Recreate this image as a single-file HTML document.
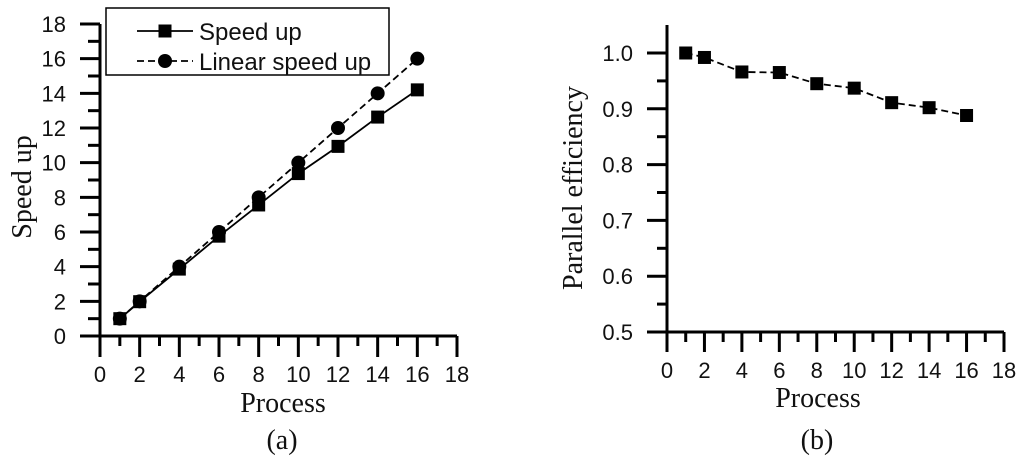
<!DOCTYPE html>
<html><head><meta charset="utf-8"><style>
html,body{margin:0;padding:0;background:#fff;width:1024px;height:466px;overflow:hidden}
svg{display:block}
.tk{font-family:"Liberation Sans",sans-serif;font-size:22px;fill:#111}
.lg{font-family:"Liberation Sans",sans-serif;font-size:24px;fill:#111}
.tt{font-family:"Liberation Serif",serif;font-size:28px;fill:#111}
</style></head><body>
<svg id="c" width="1024" height="466"></svg>
<script>
const xTicks=[0,2,4,6,8,10,12,14,16,18];
const procs=[1,2,4,6,8,10,12,14,16];
const speedup=[1,1.98,3.86,5.76,7.56,9.37,10.94,12.63,14.2];
const linearSpeedup=[1,2,4,6,8,10,12,14,16];
const yTicksA=[0,2,4,6,8,10,12,14,16,18];
const efficiency=[1.0,0.992,0.966,0.965,0.945,0.937,0.911,0.902,0.888];
const yTicksB=[0.5,0.6,0.7,0.8,0.9,1.0];
const NS='http://www.w3.org/2000/svg';
const svg=document.getElementById('c');
function el(t,a,p){const e=document.createElementNS(NS,t);for(const k in a)e.setAttribute(k,a[k]);(p||svg).appendChild(e);return e;}
function txt(s,a,p){const e=el('text',a,p);e.textContent=s;return e;}

// Panel A
const ga=el('g',{});


const xa=v=>100+v*(357/18), ya=v=>336-v*(312/18);
el('line',{x1:100,y1:24,x2:100,y2:337,stroke:'#000','stroke-width':3},ga);
el('line',{x1:99,y1:336,x2:457,y2:336,stroke:'#000','stroke-width':3},ga);
for(let v=0;v<=18;v++){
  const maj=v%2===0;
  el('line',{x1:maj?80:88,y1:ya(v),x2:100,y2:ya(v),stroke:'#000','stroke-width':3},ga);
  el('line',{x1:xa(v),y1:336,x2:xa(v),y2:maj?357:346,stroke:'#000','stroke-width':3},ga);
}
yTicksA.forEach(v=>{const t=txt(String(v),{x:66,y:ya(v)+8,'text-anchor':'end',class:'tk'},ga);});
xTicks.forEach(v=>{const t=txt(String(v),{x:xa(v),y:382,'text-anchor':'middle',class:'tk'},ga);});
el('polyline',{points:procs.map((p,i)=>xa(p)+','+ya(linearSpeedup[i])).join(' '),fill:'none',stroke:'#000','stroke-width':1.8,'stroke-dasharray':'7,4'},ga);
el('polyline',{points:procs.map((p,i)=>xa(p)+','+ya(speedup[i])).join(' '),fill:'none',stroke:'#000','stroke-width':1.8},ga);
procs.forEach((p,i)=>{
  const r=el('rect',{x:xa(p)-6.5,y:ya(speedup[i])-6.5,width:13,height:13,fill:'#000'},ga);
  
  
  const c=el('circle',{cx:xa(p),cy:ya(linearSpeedup[i]),r:7,fill:'#000'},ga);
  
  
});
const lg=el('g',{},ga);


el('rect',{x:106,y:8,width:283,height:67,fill:'#fff',stroke:'#000','stroke-width':1.5},lg);
el('line',{x1:137,y1:31,x2:193,y2:31,stroke:'#000','stroke-width':1.8},lg);
el('rect',{x:158.5,y:24.5,width:13,height:13,fill:'#000'},lg);
txt('Speed up',{x:199,y:40,class:'lg'},lg);
el('line',{x1:137,y1:61,x2:193,y2:61,stroke:'#000','stroke-width':1.8,'stroke-dasharray':'7,4'},lg);
el('circle',{cx:165,cy:61,r:7,fill:'#000'},lg);
txt('Linear speed up',{x:199,y:70,class:'lg'},lg);
txt('Speed up',{x:0,y:0,'text-anchor':'middle',class:'tt',transform:'translate(31,187) rotate(-90)'},ga);
txt('Process',{x:283,y:412,'text-anchor':'middle',class:'tt'},ga);
txt('(a)',{x:282,y:449,'text-anchor':'middle',class:'tt'},ga);

// Panel B
const gb=el('g',{});


const xb=v=>667+v*(337/18), yb=v=>332-(v-0.5)*558;
el('line',{x1:667,y1:25,x2:667,y2:333,stroke:'#000','stroke-width':3},gb);
el('line',{x1:666,y1:332,x2:1004,y2:332,stroke:'#000','stroke-width':3},gb);
for(let k=0;k<=10;k++){const v=0.5+k*0.05;const maj=k%2===0;
  el('line',{x1:maj?647:657,y1:yb(v),x2:667,y2:yb(v),stroke:'#000','stroke-width':3},gb);}
for(let v=0;v<=18;v++){const maj=v%2===0;
  el('line',{x1:xb(v),y1:332,x2:xb(v),y2:maj?352:342,stroke:'#000','stroke-width':3},gb);}
yTicksB.forEach(v=>{const t=txt(v.toFixed(1),{x:633,y:yb(v)+8,'text-anchor':'end',class:'tk'},gb);});
xTicks.forEach(v=>{const t=txt(String(v),{x:xb(v),y:378,'text-anchor':'middle',class:'tk'},gb);});
el('polyline',{points:procs.map((p,i)=>xb(p)+','+yb(efficiency[i])).join(' '),fill:'none',stroke:'#000','stroke-width':1.8,'stroke-dasharray':'7,4'},gb);
procs.forEach((p,i)=>{
  const r=el('rect',{x:xb(p)-6.5,y:yb(efficiency[i])-6.5,width:13,height:13,fill:'#000'},gb);
  
  
});
txt('Parallel efficiency',{x:0,y:0,'text-anchor':'middle',class:'tt',transform:'translate(582,188) rotate(-90)'},gb);
txt('Process',{x:818,y:407,'text-anchor':'middle',class:'tt'},gb);
txt('(b)',{x:817,y:449,'text-anchor':'middle',class:'tt'},gb);
</script>
</body></html>
